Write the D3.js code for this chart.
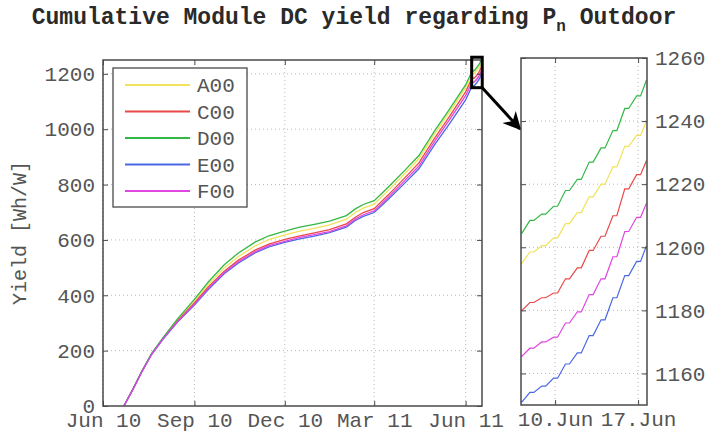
<!DOCTYPE html>
<html><head><meta charset="utf-8">
<script src="https://cdn.jsdelivr.net/npm/d3@7"></script>
<style>
html,body{margin:0;padding:0;background:#fff;}
svg{display:block;}
text{font-family:"Liberation Mono","DejaVu Sans Mono",monospace;}
</style></head><body>
<svg id="chart" width="708" height="434"></svg>
<script>
// Series and colours
const seriesNames = ["A00", "C00", "D00", "E00", "F00"];
const seriesColors = ["#f0e35a", "#ea4848", "#33b845", "#4a68e4", "#e046e0"];

// Cumulative DC yield [Wh/W], full season
const mainDates = ["2010-06-22","2010-07-01","2010-07-10","2010-07-20","2010-08-01","2010-08-15",
  "2010-09-01","2010-09-15","2010-10-01","2010-10-15","2010-11-01","2010-11-15","2010-12-01",
  "2010-12-15","2011-01-01","2011-01-15","2011-02-01","2011-02-10","2011-02-18","2011-03-01",
  "2011-03-15","2011-04-01","2011-04-15","2011-05-01","2011-05-15","2011-06-01"];
const yieldA00 = [0,60,124,189,248,311,379,439,499,539,578,601,618,631,643,654,675,699,715,729,778,840,893,984,1057,1150];
const yieldC00 = [0,60,124,188,246,307,372,430,487,526,563,585,602,614,626,637,658,682,699,713,762,825,878,969,1042,1135];
const yieldD00 = [0,60,125,190,250,315,385,448,510,552,592,615,632,645,657,668,688,712,728,742,790,852,905,995,1068,1160];
const yieldE00 = [0,59,123,187,244,303,365,421,478,516,553,575,591,603,615,626,646,670,685,699,746,806,857,945,1016,1106];
const yieldF00 = [0,59,123,187,245,305,368,425,482,520,557,579,595,608,620,630,651,675,691,705,753,815,867,957,1030,1121];

// Last days in detail: level reached at the end of each night / day
const insetDays = ["2011-06-07","2011-06-08","2011-06-09","2011-06-10","2011-06-11","2011-06-12",
  "2011-06-13","2011-06-14","2011-06-15","2011-06-16","2011-06-17"];
const levelA00 = [1195,1198.5,1200.5,1203,1207.5,1211,1216,1220,1225.5,1232,1235.5,1240];
const levelC00 = [1180,1182.5,1184,1185.5,1190,1193.5,1199,1203.5,1210,1218.5,1223,1227.5];
const levelD00 = [1204.5,1208.5,1210.5,1213,1218,1221.5,1227,1231.5,1237,1244,1248,1253];
const levelE00 = [1151,1154,1156,1158.5,1163,1166.5,1172,1177,1184,1191,1195.5,1200.5];
const levelF00 = [1165.5,1168,1170,1171.5,1176,1179.5,1185,1190,1197,1205,1209.5,1214];

// Axis ticks
const xTickDates = ["2010-06-01","2010-09-01","2010-12-01","2011-03-01","2011-06-01"];
const xTickLabels = ["Jun 10","Sep 10","Dec 10","Mar 11","Jun 11"];
const yTicks = [0,200,400,600,800,1000,1200];
const insetXTickDates = ["2011-06-10","2011-06-17"];
const insetXTickLabels = ["10.Jun","17.Jun"];
const insetYTicks = [1160,1180,1200,1220,1240,1260];

const parseDay = d3.timeParse("%Y-%m-%d");
const sunriseHour = 5, sunsetHour = 21, lastHour = 17;

const mainValues = [yieldA00, yieldC00, yieldD00, yieldE00, yieldF00];
const levelValues = [levelA00, levelC00, levelD00, levelE00, levelF00];

// Daily staircase: flat over night, rising between sunrise and sunset
function stepPoints(levels) {
  const pts = [];
  const first = parseDay(insetDays[0]);
  pts.push([d3.timeHour.offset(first, sunsetHour - 24), levels[0]]);
  insetDays.forEach((day, i) => {
    const d = parseDay(day);
    const last = i === insetDays.length - 1;
    pts.push([d3.timeHour.offset(d, sunriseHour), levels[i]]);
    pts.push([d3.timeHour.offset(d, last ? lastHour : sunsetHour), levels[i + 1]]);
  });
  return pts;
}

const series = seriesNames.map((name, k) => {
  const detail = stepPoints(levelValues[k]);
  const full = mainDates.map((d, i) => [parseDay(d), mainValues[k][i]]).concat(detail);
  return {name, color: seriesColors[k], full, detail};
});

const svg = d3.select("#chart");
const axisColor = "#4a4a4a", labelColor = "#555", gridColor = "#b8b8b8";
const fmt = d3.format("d");

// ---------- main panel ----------
const M = {left: 103, right: 482, top: 60, bottom: 406};
const x = d3.scaleTime()
  .domain([new Date(2010, 5, 1), new Date(2011, 5, 17, 12)])
  .range([M.left, M.right]);
const y = d3.scaleLinear().domain([0, 1250]).range([M.bottom, M.top]);

const insetStart = new Date(2011, 5, 7, 3), insetEnd = new Date(2011, 5, 17, 18);
const I = {left: 521, right: 647, top: 58, bottom: 405};
const xi = d3.scaleTime().domain([insetStart, insetEnd]).range([I.left, I.right]);
const yi = d3.scaleLinear().domain([1150, 1260]).range([I.bottom, I.top]);

const defs = svg.append("defs");
defs.append("clipPath").attr("id", "clipMain").append("rect")
  .attr("x", M.left).attr("y", M.top).attr("width", M.right - M.left).attr("height", M.bottom - M.top);
defs.append("clipPath").attr("id", "clipInset").append("rect")
  .attr("x", I.left).attr("y", I.top).attr("width", I.right - I.left).attr("height", I.bottom - I.top);

function grid(g, xs, ys, xVals, yVals, box) {
  g.selectAll("line.gx").data(xVals).join("line")
    .attr("x1", d => xs(d)).attr("x2", d => xs(d)).attr("y1", box.top).attr("y2", box.bottom)
    .attr("stroke", gridColor).attr("stroke-dasharray", "1,3").attr("stroke-width", 1);
  g.selectAll("line.gy").data(yVals).join("line")
    .attr("x1", box.left).attr("x2", box.right).attr("y1", d => ys(d)).attr("y2", d => ys(d))
    .attr("stroke", gridColor).attr("stroke-dasharray", "1,3").attr("stroke-width", 1);
}

function styleAxis(g, showLabels) {
  g.select(".domain").remove();
  g.selectAll(".tick line").attr("stroke", axisColor).attr("stroke-width", 1);
  g.selectAll(".tick text").attr("fill", labelColor).attr("font-size", 21)
    .attr("font-family", '"Liberation Mono","DejaVu Sans Mono",monospace');
  if (!showLabels) g.selectAll(".tick text").remove();
}

const gMain = svg.append("g");
grid(gMain.append("g"), x, y, xTickDates.map(parseDay), yTicks.filter(v => v > 0), M);

const line = d3.line().x(d => x(d[0])).y(d => y(d[1]));
gMain.append("g").attr("clip-path", "url(#clipMain)")
  .selectAll("path").data(series).join("path")
  .attr("d", d => line(d.full)).attr("fill", "none")
  .attr("stroke", d => d.color).attr("stroke-width", 1.3);

const xTickMap = new Map(xTickDates.map((d, i) => [+parseDay(d), xTickLabels[i]]));
gMain.append("g").attr("transform", `translate(0,${M.bottom})`)
  .call(d3.axisBottom(x).tickValues(xTickDates.map(parseDay)).tickSizeInner(-5).tickSizeOuter(0)
    .tickPadding(6).tickFormat(d => xTickMap.get(+d)))
  .call(g => styleAxis(g, true));
gMain.append("g").attr("transform", `translate(0,${M.top})`)
  .call(d3.axisTop(x).tickValues(xTickDates.map(parseDay)).tickSizeInner(-5).tickSizeOuter(0))
  .call(g => styleAxis(g, false));
gMain.append("g").attr("transform", `translate(${M.left},0)`)
  .call(d3.axisLeft(y).tickValues(yTicks).tickSizeInner(-5).tickSizeOuter(0).tickPadding(8).tickFormat(fmt))
  .call(g => styleAxis(g, true));
gMain.append("g").attr("transform", `translate(${M.right},0)`)
  .call(d3.axisRight(y).tickValues(yTicks).tickSizeInner(-5).tickSizeOuter(0))
  .call(g => styleAxis(g, false));
gMain.append("rect").attr("x", M.left).attr("y", M.top)
  .attr("width", M.right - M.left).attr("height", M.bottom - M.top)
  .attr("fill", "none").attr("stroke", axisColor).attr("stroke-width", 1.5);

// Legend
const lg = gMain.append("g");
lg.append("rect").attr("x", 113).attr("y", 68).attr("width", 134).attr("height", 139)
  .attr("fill", "#fff").attr("stroke", axisColor).attr("stroke-width", 1.3);
series.forEach((s, i) => {
  const ly = 85 + i * 26.5;
  lg.append("line").attr("x1", 125).attr("x2", 190).attr("y1", ly).attr("y2", ly)
    .attr("stroke", s.color).attr("stroke-width", 2);
  lg.append("text").attr("x", 197).attr("y", ly).attr("dy", "0.35em")
    .attr("font-size", 21).attr("fill", labelColor).text(s.name);
});

// Y label and title
svg.append("text").attr("transform", `translate(26,${(M.top + M.bottom) / 2}) rotate(-90)`)
  .attr("text-anchor", "middle").attr("font-size", 20).attr("fill", labelColor)
  .text("Yield [Wh/W]");
const title = svg.append("text").attr("x", 354).attr("y", 24).attr("text-anchor", "middle")
  .attr("font-size", 23).attr("font-weight", "bold").attr("fill", "#2a2a2a");
title.append("tspan").text("Cumulative Module DC yield regarding P");
title.append("tspan").attr("dy", 7).attr("font-size", 16).text("n");
title.append("tspan").attr("dy", -7).text(" Outdoor");

// Zoom box and arrow
svg.append("rect").attr("x", x(insetStart)).attr("y", y(1260))
  .attr("width", x(insetEnd) - x(insetStart)).attr("height", y(1150) - y(1260))
  .attr("fill", "none").attr("stroke", "#000").attr("stroke-width", 3);
defs.append("marker").attr("id", "head").attr("viewBox", "0 0 10 10")
  .attr("refX", 9).attr("refY", 5).attr("markerWidth", 7).attr("markerHeight", 6)
  .attr("markerUnits", "strokeWidth").attr("orient", "auto")
  .append("path").attr("d", "M0,0 L10,5 L0,10 L3,5 Z").attr("fill", "#000");
svg.append("line").attr("x1", x(insetEnd)).attr("y1", y(1150))
  .attr("x2", I.left - 1).attr("y2", 129)
  .attr("stroke", "#000").attr("stroke-width", 3).attr("marker-end", "url(#head)");

// ---------- inset panel ----------
const gIn = svg.append("g");
grid(gIn.append("g"), xi, yi, insetXTickDates.map(parseDay), insetYTicks.filter(v => v < 1260), I);
const lineI = d3.line().x(d => xi(d[0])).y(d => yi(d[1]));
gIn.append("g").attr("clip-path", "url(#clipInset)")
  .selectAll("path").data(series).join("path")
  .attr("d", d => lineI(d.detail)).attr("fill", "none")
  .attr("stroke", d => d.color).attr("stroke-width", 1.2);

const insetTickMap = new Map(insetXTickDates.map((d, i) => [+parseDay(d), insetXTickLabels[i]]));
gIn.append("g").attr("transform", `translate(0,${I.bottom})`)
  .call(d3.axisBottom(xi).tickValues(insetXTickDates.map(parseDay)).tickSizeInner(-5).tickSizeOuter(0)
    .tickPadding(6).tickFormat(d => insetTickMap.get(+d)))
  .call(g => styleAxis(g, true));
gIn.append("g").attr("transform", `translate(0,${I.top})`)
  .call(d3.axisTop(xi).tickValues(insetXTickDates.map(parseDay)).tickSizeInner(-5).tickSizeOuter(0))
  .call(g => styleAxis(g, false));
gIn.append("g").attr("transform", `translate(${I.right},0)`)
  .call(d3.axisRight(yi).tickValues(insetYTicks).tickSizeInner(-5).tickSizeOuter(0).tickPadding(8).tickFormat(fmt))
  .call(g => styleAxis(g, true));
gIn.append("g").attr("transform", `translate(${I.left},0)`)
  .call(d3.axisLeft(yi).tickValues(insetYTicks).tickSizeInner(-5).tickSizeOuter(0))
  .call(g => styleAxis(g, false));
gIn.append("rect").attr("x", I.left).attr("y", I.top)
  .attr("width", I.right - I.left).attr("height", I.bottom - I.top)
  .attr("fill", "none").attr("stroke", axisColor).attr("stroke-width", 1.5);
</script>
</body></html>
